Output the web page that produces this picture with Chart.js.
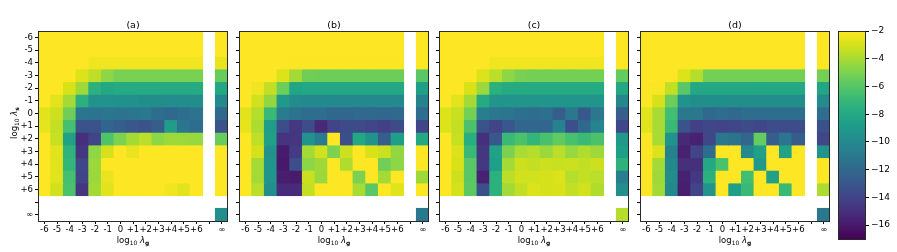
<!DOCTYPE html>
<html>
<head>
<meta charset="utf-8">
<script src="https://cdn.jsdelivr.net/npm/chart.js@4/dist/chart.umd.min.js"></script>
<style>
  body { margin: 0; background: #fff; }
  #wrap { position: relative; width: 897px; height: 252px; overflow: hidden; font-family: 'DejaVu Sans', sans-serif; }
  canvas { position: absolute; top: 0; }
  .xlab { position: absolute; top: 235px; width: 100px; text-align: center; font-size: 8.5px; color: #000; }
  .ylab { position: absolute; left: -36px; top: 118px; width: 100px; text-align: center; font-size: 8.5px; color: #000; transform: rotate(-90deg); }
  sub { font-size: 70%; vertical-align: -2px; line-height: 0; }
</style>
</head>
<body>
<div id="wrap"></div>
<script>
// tick labels (13 decades, blank gap, infinity)
const xLabels = ['-6','-5','-4','-3','-2','-1','0','+1','+2','+3','+4','+5','+6','','∞'];
const yLabels = ['-6','-5','-4','-3','-2','-1','0','+1','+2','+3','+4','+5','+6','','∞'];
const cbTicks = [-2,-4,-6,-8,-10,-12,-14,-16];
const vmin = -17, vmax = -2;
const titles = ['(a)','(b)','(c)','(d)'];

// rows: log10 λs = -6..+6 ; each row: log10 λg = -6..+6 then ∞
const gridA = [
  [-2,-2,-2,-2,-2,-2,-2,-2,-2,-2,-2,-2,-2,-2],
  [-2,-2,-2,-2,-2,-2,-2,-2,-2,-2,-2,-2,-2,-2],
  [-2,-2,-2,-2,-2.3,-2.3,-2.3,-2.3,-2.3,-2.3,-2.3,-2.3,-2.3,-2.5],
  [-2,-2,-2,-2.8,-3.5,-4.6,-5.1,-5.1,-5.1,-5.1,-5.1,-5.1,-5.1,-5.5],
  [-2,-2,-2.9,-4.2,-7.5,-8,-7.9,-7.9,-7.9,-7.9,-7.9,-7.9,-7.9,-8],
  [-2,-2.7,-4.1,-7.5,-9.4,-9.4,-9.5,-9.5,-9.7,-9.7,-9.8,-9.8,-9.7,-10],
  [-2.7,-3.2,-5.3,-11.2,-11.3,-11.2,-11.3,-11.2,-11,-11.7,-12,-11.7,-11.3,-12],
  [-2.6,-3.4,-6.5,-13.2,-13.2,-12.2,-12.6,-13,-13.2,-12.6,-8.8,-11.2,-11.7,-13.2],
  [-2,-3.3,-8.4,-15,-14,-6.2,-5,-4.1,-3.6,-4.6,-4.2,-4.3,-4.4,-5.5],
  [-2,-2.7,-7.3,-14.7,-4.6,-3,-2,-2.5,-2,-2,-2,-2,-2,-2],
  [-2,-2.7,-7.1,-13.8,-4.3,-2,-2,-2,-2,-2,-2,-2,-2,-2],
  [-2,-2.7,-6.5,-14,-4.3,-2.5,-2,-2,-2,-2,-2,-2,-2,-2],
  [-2,-3.1,-6.3,-14.7,-4.1,-2.7,-2,-2,-2,-2,-2.3,-2.7,-2,-2]
];
const cornerA = -9.6;

const gridB = [
  [-2,-2,-2,-2,-2,-2,-2,-2,-2,-2,-2,-2,-2,-2],
  [-2,-2,-2,-2,-2,-2,-2,-2,-2,-2,-2,-2,-2,-2],
  [-2,-2,-2,-2,-2.1,-2.1,-2.1,-2.1,-2.1,-2.1,-2.1,-2.1,-2.1,-2],
  [-2,-2,-2,-2.8,-4.1,-5.3,-5.4,-5.4,-5.4,-5.4,-5.4,-5.4,-5.4,-5.9],
  [-2,-2.3,-3.4,-5.4,-8.2,-8.1,-8.1,-8.1,-8.1,-8.1,-8.1,-8.1,-8.1,-8.6],
  [-2,-3.1,-4.5,-9,-9.9,-10,-10,-10,-10,-10,-10,-10,-10,-10.4],
  [-2.7,-3.7,-6.9,-10.8,-11.3,-11.7,-11.7,-12.1,-12.1,-12,-12,-12.1,-12,-11.7],
  [-2.6,-3.9,-8.8,-13.5,-14.6,-13.5,-15.3,-14,-13.6,-13.6,-13.9,-14.2,-13.6,-13.9],
  [-2,-3.5,-8.5,-14.8,-14.7,-9.4,-10.8,-2,-13.5,-8,-9.4,-12.6,-8.6,-8],
  [-2,-3,-9.4,-15.9,-14.4,-4.1,-3.1,-5,-3.2,-2,-2.9,-3.2,-4.5,-2],
  [-2,-4.1,-9.3,-16,-13.4,-4.6,-4.2,-2,-3.8,-2,-2,-5.3,-4.6,-2],
  [-2,-4.1,-9.3,-15.8,-15.9,-3.3,-4.3,-2,-2,-5,-2,-4.1,-2,-4.2],
  [-2,-3.6,-9.6,-15.2,-15.2,-3.4,-2,-2,-2,-4,-5.9,-2,-2.7,-2]
];
const cornerB = -11;

const gridC = [
  [-2,-2,-2,-2,-2,-2,-2,-2,-2,-2,-2,-2,-2,-2],
  [-2,-2,-2,-2,-2,-2,-2,-2,-2,-2,-2,-2,-2,-2],
  [-2,-2,-2,-2,-2.3,-2.3,-2.3,-2.3,-2.3,-2.3,-2.3,-2.3,-2.3,-2],
  [-2,-2,-2,-2.8,-3.6,-4.6,-5.1,-5.2,-5.2,-5.2,-5.2,-5.2,-5.2,-5.6],
  [-2,-2,-2.9,-4.3,-7.5,-7.9,-7.9,-7.9,-7.9,-7.9,-7.9,-7.9,-7.9,-8],
  [-2,-2.7,-4.1,-7.9,-9.3,-9.3,-9.3,-9.3,-9.3,-9.3,-9.3,-9.3,-9.3,-10.2],
  [-2.8,-3.3,-5.2,-10.7,-11.1,-11.2,-11.5,-11.7,-11.5,-12.6,-11.1,-12.9,-11.1,-12.6],
  [-2.8,-3.4,-6.3,-13.2,-14,-13,-12.1,-12.1,-12.1,-10.4,-13.4,-12,-10.3,-13.8],
  [-2,-3.3,-7.6,-15,-12.9,-6.9,-6.3,-7.1,-6.4,-5.7,-6.4,-6.8,-6.3,-9],
  [-2,-2.8,-6.9,-14.7,-8.4,-5,-4,-3.7,-4.3,-3.6,-4.4,-3.8,-4.2,-8.6],
  [-2,-2.9,-5.9,-14.6,-8.6,-4.1,-3.2,-3.4,-3.2,-3.3,-3.2,-3.4,-3.2,-7.4],
  [-2,-3.2,-5.9,-15.6,-7.5,-3.6,-3.1,-3.1,-3,-2.8,-3.7,-3.4,-3.6,-10.7],
  [-2,-3,-5.8,-13.4,-7.5,-4.1,-3.4,-2.8,-3,-2.9,-3.4,-3.1,-3.8,-9.6]
];
const cornerC = -3.7;

const gridD = [
  [-2,-2,-2,-2,-2,-2,-2,-2,-2,-2,-2,-2,-2,-2],
  [-2,-2,-2,-2,-2,-2,-2,-2,-2,-2,-2,-2,-2,-2],
  [-2,-2,-2,-2,-2,-2,-2,-2,-2,-2,-2,-2,-2,-2],
  [-2,-2,-2,-2.8,-3.7,-5.2,-5.2,-5.2,-5.2,-5.2,-5.2,-5.2,-5.2,-5.2],
  [-2.1,-2.1,-3.4,-5.9,-8.1,-8.1,-8.1,-8.1,-8.1,-8.1,-8.1,-8.1,-8.1,-8.2],
  [-2,-3,-5.4,-9.4,-9.7,-9.7,-9.7,-9.7,-9.7,-9.7,-9.7,-9.7,-9.7,-9.9],
  [-2.7,-4,-6.6,-11.1,-11.1,-12,-11.7,-12,-11.7,-11.7,-11.7,-11.7,-11.7,-11.7],
  [-2.7,-4,-6.9,-13.2,-14.2,-13.8,-14,-13.8,-13.6,-13.9,-13.5,-13.5,-13.5,-13.3],
  [-2,-4,-9.4,-15.3,-15.6,-13.8,-11.1,-11.3,-12.1,-5.6,-12.6,-11.2,-12.7,-13.8],
  [-2,-2.8,-10.4,-15.6,-14,-11.7,-2,-2,-10,-8.5,-2,-8.4,-2,-9.3],
  [-2,-4.1,-10,-15,-15,-8,-6.3,-2,-2,-9,-2,-2,-2,-2],
  [-2,-4.2,-9.7,-15.6,-14.6,-7.5,-2,-2,-6.6,-2,-8.5,-2,-2,-2],
  [-2,-4.1,-10,-15.8,-14,-9.3,-2,-8.6,-6.9,-2,-2,-6.9,-2,-3.9]
];
const cornerD = -11.1;

const VIR = ['#440154','#48186a','#472d7b','#424086','#3b528b','#33638d','#2c728e','#26828e',
  '#21918c','#1fa088','#28ae80','#3fbc73','#5ec962','#84d44b','#addc30','#d8e219','#fde725'];

function hex(h) {
  return [parseInt(h.slice(1,3),16), parseInt(h.slice(3,5),16), parseInt(h.slice(5,7),16)];
}

function colorOf(v) {
  let t = (v - vmin) / (vmax - vmin);
  t = Math.max(0, Math.min(1, t));
  const p = t * (VIR.length - 1);
  const i = Math.min(Math.floor(p), VIR.length - 2);
  const f = p - i;
  const a = hex(VIR[i]), b = hex(VIR[i+1]);
  const c = a.map((x, k) => Math.round(x + (b[k] - x) * f));
  return 'rgb(' + c.join(',') + ')';
}

Chart.defaults.font.family = "'DejaVu Sans', sans-serif";
Chart.defaults.color = '#000';

// matplotlib style box round the axes
const frame = {
  id: 'frame',
  afterDraw(chart) {
    const a = chart.chartArea;
    const ctx = chart.ctx;
    ctx.save();
    ctx.strokeStyle = '#2a2a2a';
    ctx.lineWidth = 1;
    ctx.strokeRect(Math.round(a.left) + 0.5, Math.round(a.top) + 0.5, Math.round(a.width) - 1, Math.round(a.height));
    ctx.restore();
  }
};

const wrap = document.getElementById('wrap');

function addCanvas(left, width) {
  const c = document.createElement('canvas');
  c.width = width; c.height = 252;
  c.style.left = left + 'px';
  c.style.width = width + 'px'; c.style.height = '252px';
  wrap.appendChild(c);
  return c;
}

function makePanel(left, title, grid, corner, showY) {
  const canvas = addCanvas(left - 38, 236);
  const datasets = [];
  for (let r = 0; r < 15; r++) {
    let vals;
    if (r < 13) vals = grid[r].slice(0, 13).concat([null, grid[r][13]]);
    else if (r == 14) vals = new Array(14).fill(null).concat([corner]);
    else continue;
    datasets.push({
      data: vals.map(v => v == null ? null : [r, r + 1]),
      backgroundColor: vals.map(v => v == null ? 'rgba(0,0,0,0)' : colorOf(v)),
      borderWidth: 0,
      grouped: false,
      barPercentage: 1,
      categoryPercentage: 1,
      inflateAmount: 0.4
    });
  }
  new Chart(canvas, {
    type: 'bar',
    data: { labels: xLabels, datasets: datasets },
    options: {
      responsive: false,
      animation: false,
      devicePixelRatio: 1,
      events: [],
      layout: { padding: { left: 0, right: 8, top: 0, bottom: 0 } },
      plugins: {
        legend: { display: false },
        tooltip: { enabled: false },
        title: {
          display: true, text: title, fullSize: false, color: '#000',
          font: { size: 9.5, weight: 'normal' },
          padding: { top: 19.5, bottom: 0.1 }
        }
      },
      scales: {
        x: {
          type: 'category',
          offset: true,
          grid: { offset: false, drawOnChartArea: false, drawTicks: true, tickLength: 3, color: '#000' },
          border: { display: false },
          ticks: { autoSkip: false, maxRotation: 0, padding: 1, font: { size: 8.5 }, color: '#000' },
          afterFit: s => { s.height = 31; }
        },
        y: {
          type: 'linear',
          reverse: true,
          min: 0, max: 15,
          afterBuildTicks: s => { s.ticks = yLabels.map((l, i) => ({ value: i + 0.5 })); },
          grid: { drawOnChartArea: false, drawTicks: true, tickLength: 3, color: '#000' },
          border: { display: false },
          ticks: {
            padding: 2, font: { size: 8.5 }, color: '#000',
            callback: (v, i) => showY ? yLabels[i] : ''
          },
          afterFit: s => { s.width = 38; }
        }
      }
    },
    plugins: [frame]
  });

  const xl = document.createElement('div');
  xl.className = 'xlab';
  xl.style.left = (left + 95 - 50) + 'px';
  xl.innerHTML = 'log<sub>10</sub> <i>λ</i><sub><b>g</b></sub>';
  wrap.appendChild(xl);
}

makePanel(38, titles[0], gridA, cornerA, true);
makePanel(239, titles[1], gridB, cornerB, false);
makePanel(439, titles[2], gridC, cornerC, false);
makePanel(640, titles[3], gridD, cornerD, false);

const yl = document.createElement('div');
yl.className = 'ylab';
yl.innerHTML = 'log<sub>10</sub> <i>λ</i><sub><b>s</b></sub>';
wrap.appendChild(yl);

// colour bar
const cb = addCanvas(830, 67);
new Chart(cb, {
  type: 'bar',
  data: {
    labels: [''],
    datasets: [{
      data: [[vmin, vmax]],
      backgroundColor: ctx => {
        const a = ctx.chart.chartArea;
        if (!a) return VIR[8];
        const g = ctx.chart.ctx.createLinearGradient(0, a.bottom, 0, a.top);
        VIR.forEach((c, i) => g.addColorStop(i / (VIR.length - 1), c));
        return g;
      },
      borderWidth: 0,
      barPercentage: 1,
      categoryPercentage: 1,
      inflateAmount: 0
    }]
  },
  options: {
    responsive: false,
    animation: false,
    devicePixelRatio: 1,
    events: [],
    layout: { padding: { left: 8, right: 0, top: 31, bottom: 13 } },
    plugins: { legend: { display: false }, tooltip: { enabled: false } },
    scales: {
      x: { display: false },
      y: {
        position: 'right',
        min: vmin, max: vmax,
        afterBuildTicks: s => { s.ticks = cbTicks.map(v => ({ value: v })); },
        grid: { drawOnChartArea: false, drawTicks: true, tickLength: 3, color: '#000' },
        border: { display: false },
        ticks: { padding: 2, font: { size: 9 }, color: '#000', callback: v => '\u2212' + Math.abs(v) },
        afterFit: s => { s.width = 31; }
      }
    }
  },
  plugins: [frame]
});
</script>
</body>
</html>
